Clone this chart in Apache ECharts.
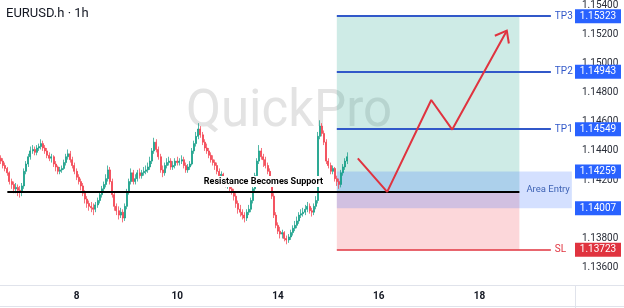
<!DOCTYPE html>
<html><head><meta charset="utf-8">
<script src="https://cdn.jsdelivr.net/npm/echarts@6/dist/echarts.min.js"></script>
<style>html,body{margin:0;padding:0;background:#fff}#c{width:624px;height:308px}</style>
</head><body><div id="c"></div>
<script>
// ---------- data ----------
const symbolName = 'EURUSD.h · 1h';
const watermarkText = 'QuickPro';
const tradingDays = [6,7,8,9,10,11,14,15,16,17,18,19];
const labeledDays = [8,10,14,16,18];
const firstHour = 12;
const hourCount = 274;
const open0 = 1.1435;
const closes = [
1.1433,1.1430,1.1428,1.1425,1.1419,1.1417,1.1414,1.1415,1.1413,1.1412,
1.1416,1.1426,1.1431,1.1436,1.1440,1.1441,1.1439,1.1442,1.1443,1.1445,
1.1442,1.1440,1.1437,1.1435,1.1436,1.1431,1.1429,1.1426,1.1427,1.1428,
1.1432,1.1436,1.1438,1.1434,1.1430,1.1426,1.1422,1.1419,1.1416,1.1411,
1.1407,1.1404,1.1402,1.1401,1.1400,1.1403,1.1406,1.1410,1.1414,1.1417,
1.1421,1.1427,1.1419,1.1410,1.1402,1.1399,1.1396,1.1398,1.1394,1.1402,
1.1412,1.1419,1.1425,1.1419,1.1421,1.1425,1.1423,1.1425,1.1426,1.1427,
1.1429,1.1433,1.1440,1.1446,1.1441,1.1436,1.1427,1.1425,1.1430,1.1432,
1.1433,1.1429,1.1430,1.1433,1.1432,1.1433,1.1434,1.1430,1.1427,1.1429,
1.1431,1.1440,1.1445,1.1450,1.1455,1.1451,1.1446,1.1442,1.1440,1.1437,
1.1434,1.1432,1.1430,1.1426,1.1423,1.1424,1.1419,1.1417,1.1418,1.1414,
1.1412,1.1409,1.1404,1.1400,1.1398,1.1396,1.1394,1.1398,1.1400,1.1406,
1.1414,1.1423,1.1433,1.1440,1.1436,1.1434,1.1430,1.1426,1.1418,1.1409,
1.1396,1.1389,1.1385,1.1383,1.1384,1.1380,1.1379,1.1381,1.1384,1.1387,
1.1389,1.1392,1.1396,1.1397,1.1398,1.1400,1.1402,1.1399,1.1398,1.1402,
1.1406,1.1450,1.1457,1.1452,1.1446,1.1433,1.1430,1.1426,1.1428,1.1421,
1.1419,1.1417,1.1425,1.1429,1.1433,1.1436];
const highs = [
1.1437,1.1435,1.1432,1.1429,1.1426,1.1421,1.1419,1.1418,1.1417,1.1416,
1.1418,1.1428,1.1433,1.1438,1.1443,1.1444,1.1443,1.1444,1.1445,1.1448,
1.1447,1.1444,1.1442,1.1439,1.1438,1.1437,1.1433,1.1430,1.1429,1.1430,
1.1434,1.1438,1.1441,1.1440,1.1436,1.1432,1.1428,1.1424,1.1421,1.1418,
1.1413,1.1409,1.1406,1.1405,1.1404,1.1405,1.1408,1.1412,1.1416,1.1419,
1.1424,1.1430,1.1429,1.1421,1.1412,1.1404,1.1402,1.1401,1.1400,1.1404,
1.1414,1.1421,1.1428,1.1427,1.1424,1.1427,1.1428,1.1427,1.1429,1.1430,
1.1432,1.1436,1.1442,1.1449,1.1448,1.1443,1.1438,1.1430,1.1432,1.1435,
1.1436,1.1435,1.1433,1.1435,1.1436,1.1435,1.1437,1.1436,1.1432,1.1431,
1.1433,1.1442,1.1447,1.1453,1.1459,1.1457,1.1453,1.1448,1.1445,1.1442,
1.1439,1.1437,1.1434,1.1432,1.1428,1.1426,1.1425,1.1421,1.1420,1.1419,
1.1416,1.1414,1.1411,1.1406,1.1403,1.1400,1.1398,1.1400,1.1403,1.1408,
1.1416,1.1425,1.1435,1.1444,1.1442,1.1438,1.1436,1.1432,1.1428,1.1420,
1.1411,1.1398,1.1391,1.1388,1.1386,1.1385,1.1382,1.1383,1.1386,1.1389,
1.1392,1.1395,1.1398,1.1400,1.1401,1.1403,1.1405,1.1404,1.1401,1.1404,
1.1409,1.1453,1.1461,1.1459,1.1454,1.1448,1.1435,1.1432,1.1430,1.1429,
1.1423,1.1421,1.1427,1.1431,1.1435,1.1439];
const lows = [
1.1431,1.1428,1.1426,1.1423,1.1417,1.1414,1.1411,1.1411,1.1409,1.1408,
1.1409,1.1414,1.1424,1.1429,1.1434,1.1438,1.1437,1.1437,1.1440,1.1441,
1.1440,1.1438,1.1435,1.1433,1.1432,1.1429,1.1426,1.1424,1.1424,1.1425,
1.1427,1.1430,1.1434,1.1432,1.1428,1.1424,1.1420,1.1417,1.1413,1.1409,
1.1404,1.1401,1.1399,1.1398,1.1396,1.1398,1.1401,1.1404,1.1408,1.1412,
1.1415,1.1419,1.1417,1.1408,1.1399,1.1396,1.1393,1.1394,1.1391,1.1392,
1.1400,1.1410,1.1417,1.1417,1.1417,1.1419,1.1421,1.1421,1.1423,1.1424,
1.1425,1.1427,1.1431,1.1438,1.1439,1.1434,1.1425,1.1422,1.1423,1.1428,
1.1430,1.1427,1.1427,1.1428,1.1430,1.1430,1.1431,1.1428,1.1425,1.1425,
1.1427,1.1430,1.1438,1.1443,1.1448,1.1449,1.1444,1.1440,1.1438,1.1435,
1.1432,1.1430,1.1427,1.1424,1.1421,1.1420,1.1417,1.1415,1.1414,1.1412,
1.1410,1.1406,1.1401,1.1397,1.1395,1.1393,1.1391,1.1392,1.1396,1.1398,
1.1404,1.1412,1.1421,1.1431,1.1434,1.1429,1.1428,1.1424,1.1416,1.1407,
1.1394,1.1387,1.1383,1.1380,1.1380,1.1378,1.1376,1.1377,1.1379,1.1382,
1.1385,1.1387,1.1390,1.1394,1.1395,1.1396,1.1398,1.1397,1.1395,1.1396,
1.1400,1.1404,1.1448,1.1450,1.1444,1.1431,1.1428,1.1424,1.1424,1.1419,
1.1416,1.1414,1.1415,1.1423,1.1427,1.1431];
const entryPrice = 1.14119;
const zoneTop = 1.14259, zoneBottom = 1.14007;
const tp1 = 1.14549, tp2 = 1.14943, tp3 = 1.15323, stopLoss = 1.13723;
const yMin = 1.13481, yMax = 1.15414;
const yTicks = [1.136,1.138,1.140,1.142,1.144,1.146,1.148,1.150,1.152,1.154];
// time indices (hours) of drawing anchors
const supportStartIdx = 3, positionStartIdx = 160, positionEndIdx = 247, levelEndIdx = 262, zoneEndIdx = 272;
const pathIdx = [170,184,205,215,241];
const pathPrice = [1.14349,1.14119,1.14749,1.14546,1.15224];

// ---------- build ----------
const categories = [];
for (const d of tradingDays) for (let h = 0; h < 24; h++) {
  if (d === tradingDays[0] && h < firstHour) continue;
  categories.push(d + ' ' + h + ':00');
}
categories.length = hourCount;
const ohlc = closes.map((c, i) => [i === 0 ? open0 : closes[i - 1], c, lows[i], highs[i]]);

const lineBlue = '#3158c9', tagBlue = '#2962ff', red = '#e0333f';
const FONT = 'Roboto, "Noto Sans", sans-serif';
const gridMargin = {left: 0, right: 49, top: 0, bottom: 23};

function level(p, color, width, text) {
  return [
    {coord: [positionStartIdx, p], lineStyle: {color, width, type: 'solid'},
     label: {show: true, formatter: text, position: 'end', distance: 4, color, fontSize: 10, fontFamily: FONT}},
    {coord: [levelEndIdx, p]}
  ];
}

const chart = echarts.init(document.getElementById('c'));
chart.setOption({
  animation: false,
  backgroundColor: '#fff',
  grid: gridMargin,
  xAxis: {
    type: 'category', data: categories, boundaryGap: true,
    axisLine: {show: false}, axisTick: {show: false}, splitLine: {show: false},
    axisLabel: {
      interval: (i, v) => { const [d, t] = v.split(' '); return t === '0:00' && labeledDays.includes(+d); },
      formatter: v => v.split(' ')[0],
      color: '#131722', fontSize: 10, fontWeight: 'bold', fontFamily: FONT, margin: 6
    }
  },
  yAxis: {
    type: 'value', position: 'right', min: yMin, max: yMax, scale: true,
    axisLine: {show: false}, axisTick: {show: false}, splitLine: {show: false},
    axisLabel: {customValues: yTicks, formatter: v => v.toFixed(5), color: '#2a2e39',
      fontSize: 10, fontFamily: FONT, margin: 7}
  },
  series: [
    {
      type: 'candlestick', data: ohlc, barWidth: 1.5, z: 3,
      itemStyle: {color: '#089981', color0: '#f23645', borderColor: '#089981', borderColor0: '#f23645', borderWidth: 0.7},
      markArea: {
        silent: true,
        data: [
          [{coord: [positionStartIdx, tp3], itemStyle: {color: 'rgba(8,153,129,0.2)'}}, {coord: [positionEndIdx, entryPrice]}],
          [{coord: [positionStartIdx, entryPrice], itemStyle: {color: 'rgba(242,54,69,0.2)'}}, {coord: [positionEndIdx, stopLoss]}],
          [{coord: [positionStartIdx, zoneTop], itemStyle: {color: 'rgba(41,98,255,0.2)'},
            label: {show: true, position: 'insideRight', distance: 2, formatter: 'Area Entry', color: '#3f63b5', fontSize: 9.5, fontFamily: FONT}},
           {coord: [zoneEndIdx, zoneBottom]}]
        ]
      },
      markLine: {
        silent: true, symbol: 'none', precision: 5,
        data: [
          level(tp3, lineBlue, 2, 'TP3'),
          level(tp2, lineBlue, 2, 'TP2'),
          level(tp1, lineBlue, 2, 'TP1'),
          level(stopLoss, red, 1.5, 'SL'),
          [{coord: [supportStartIdx, entryPrice], lineStyle: {color: '#000', width: 2, type: 'solid'},
            label: {show: true, position: 'middle', formatter: 'Resistance Becomes Support', color: '#000',
              fontWeight: 'bold', fontSize: 9, fontFamily: FONT, backgroundColor: '#fff', padding: [1, 4]}},
           {coord: [positionEndIdx, entryPrice]}]
        ]
      }
    },
    {
      type: 'line', data: pathIdx.map((x, i) => [x, pathPrice[i]]), symbol: 'none', z: 5,
      lineStyle: {color: red, width: 2}
    }
  ]
});

// ---------- overlays (positions derived from the chart's scales) ----------
const W = chart.getWidth(), H = chart.getHeight();
const plotRight = W - gridMargin.right, plotBottom = H - gridMargin.bottom;
const py = p => chart.convertToPixel({yAxisIndex: 0}, p);
const tags = [[tp3, tagBlue], [tp2, tagBlue], [tp1, tagBlue], [zoneTop, tagBlue], [zoneBottom, tagBlue], [stopLoss, red]];
const g = [];
g.push({type: 'text', left: 6, top: 7, z: 10, style: {text: symbolName, fill: '#131722', font: '13px ' + FONT}});
g.push({type: 'text', x: 289, y: 113, z: -1, style: {text: watermarkText, fill: '#e3e3e3', font: '51px ' + FONT, align: 'center', verticalAlign: 'middle'}});
tags.forEach(([p, c]) => {
  const y = py(p);
  g.push({type: 'rect', z: 20, shape: {x: plotRight, y: y - 7, width: 46, height: 14}, style: {fill: c}});
  g.push({type: 'text', z: 21, x: plotRight + 23, y: y, style: {text: p.toFixed(5), fill: '#fff', font: '10px ' + FONT, align: 'center', verticalAlign: 'middle'}});
});
g.push({type: 'line', z: 5, shape: {x1: 0, y1: plotBottom + 0.5, x2: W, y2: plotBottom + 0.5}, style: {stroke: '#e0e3eb', lineWidth: 1}});
g.push({type: 'line', z: 5, shape: {x1: 0, y1: H - 1.5, x2: W, y2: H - 1.5}, style: {stroke: '#e0e3eb', lineWidth: 1}});
g.push({type: 'line', z: 5, shape: {x1: plotRight + 0.5, y1: plotBottom, x2: plotRight + 0.5, y2: H}, style: {stroke: '#e0e3eb', lineWidth: 1}});
// arrow head at the end of the projected path
const n = pathIdx.length;
const tip = chart.convertToPixel({xAxisIndex: 0, yAxisIndex: 0}, [pathIdx[n - 1], pathPrice[n - 1]]);
const prev = chart.convertToPixel({xAxisIndex: 0, yAxisIndex: 0}, [pathIdx[n - 2], pathPrice[n - 2]]);
const ang = Math.atan2(prev[1] - tip[1], prev[0] - tip[0]);
const L = 13, A = 38 * Math.PI / 180;
g.push({type: 'polyline', z: 30, shape: {points: [
  [tip[0] + L * Math.cos(ang + A), tip[1] + L * Math.sin(ang + A)], tip,
  [tip[0] + L * Math.cos(ang - A), tip[1] + L * Math.sin(ang - A)]]},
  style: {stroke: red, lineWidth: 2, fill: null}});
chart.setOption({graphic: g});
</script></body></html>
